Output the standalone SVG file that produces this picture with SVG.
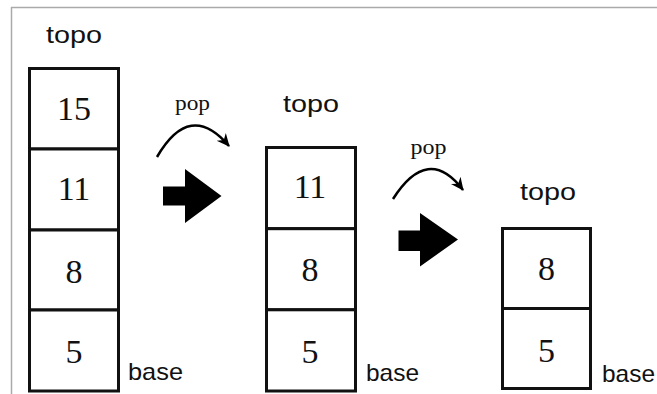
<svg xmlns="http://www.w3.org/2000/svg" width="657" height="394" viewBox="0 0 657 394">
<defs>
<style>
.cell{fill:#fff;stroke:#111;stroke-width:3}
.num{font-family:"Liberation Serif","Times New Roman",serif;font-size:34px;fill:#111;text-anchor:middle}
.lbl{font-family:"Liberation Sans",Arial,sans-serif;font-size:24px;fill:#111}
.pop{font-family:"Liberation Serif","Times New Roman",serif;font-size:21px;fill:#111}
.curve{fill:none;stroke:#000;stroke-width:2.5}
.block{fill:#000}
</style>
<marker id="ah" markerUnits="userSpaceOnUse" markerWidth="14" markerHeight="14" viewBox="0 0 14 14" refX="12" refY="7" orient="auto">
<path d="M0,1 L13,7 L0,13 L4,7 Z" fill="#000"/>
</marker>
</defs>
<rect width="657" height="394" fill="#fff"/>
<g id="frame">
<line x1="11" y1="7.5" x2="657" y2="7.5" stroke="#aaa" stroke-width="1.5"/>
<line x1="11.5" y1="7" x2="11.5" y2="394" stroke="#aaa" stroke-width="1.5"/>
</g>
<g id="stack1">
<text class="lbl" x="46" y="43" textLength="56" lengthAdjust="spacingAndGlyphs">topo</text>
<rect class="cell" x="29.5" y="68.5" width="89" height="80.5"/>
<rect class="cell" x="29.5" y="149" width="89" height="81"/>
<rect class="cell" x="29.5" y="230" width="89" height="80"/>
<rect class="cell" x="29.5" y="310" width="89" height="81"/>
<text class="num" x="74" y="120">15</text>
<text class="num" x="74" y="200">11</text>
<text class="num" x="74" y="283">8</text>
<text class="num" x="74" y="363">5</text>
<text class="lbl" x="128" y="380" textLength="55" lengthAdjust="spacingAndGlyphs">base</text>
</g>
<g id="stack2">
<text class="lbl" x="283" y="112" textLength="56" lengthAdjust="spacingAndGlyphs">topo</text>
<rect class="cell" x="266.5" y="147.5" width="89" height="81.2"/>
<rect class="cell" x="266.5" y="228.7" width="89" height="81.1"/>
<rect class="cell" x="266.5" y="309.8" width="89" height="81.2"/>
<text class="num" x="310" y="198">11</text>
<text class="num" x="310" y="281">8</text>
<text class="num" x="310" y="363">5</text>
<text class="lbl" x="366" y="381" textLength="53" lengthAdjust="spacingAndGlyphs">base</text>
</g>
<g id="stack3">
<text class="lbl" x="520" y="200" textLength="56" lengthAdjust="spacingAndGlyphs">topo</text>
<rect class="cell" x="502.5" y="228.5" width="88" height="80"/>
<rect class="cell" x="502.5" y="308.5" width="88" height="80"/>
<text class="num" x="546.5" y="280">8</text>
<text class="num" x="546.5" y="362">5</text>
<text class="lbl" x="602" y="382" textLength="53" lengthAdjust="spacingAndGlyphs">base</text>
</g>
<g id="connectors">
<text class="pop" x="175" y="110" textLength="35" lengthAdjust="spacingAndGlyphs">pop</text>
<path class="curve" d="M157,157 Q190,100 229,146" marker-end="url(#ah)"/>
<polygon class="block" points="163,186.5 185,186.5 185,169 221.5,196 185,223 185,205.5 163,205.5"/>
<text class="pop" x="410.5" y="154" textLength="36" lengthAdjust="spacingAndGlyphs">pop</text>
<path class="curve" d="M393,199 Q428,144 463,190" marker-end="url(#ah)"/>
<polygon class="block" points="398.5,230.5 420,230.5 420,213 458,239.5 420,266.5 420,251 398.5,251"/>
</g>
</svg>
